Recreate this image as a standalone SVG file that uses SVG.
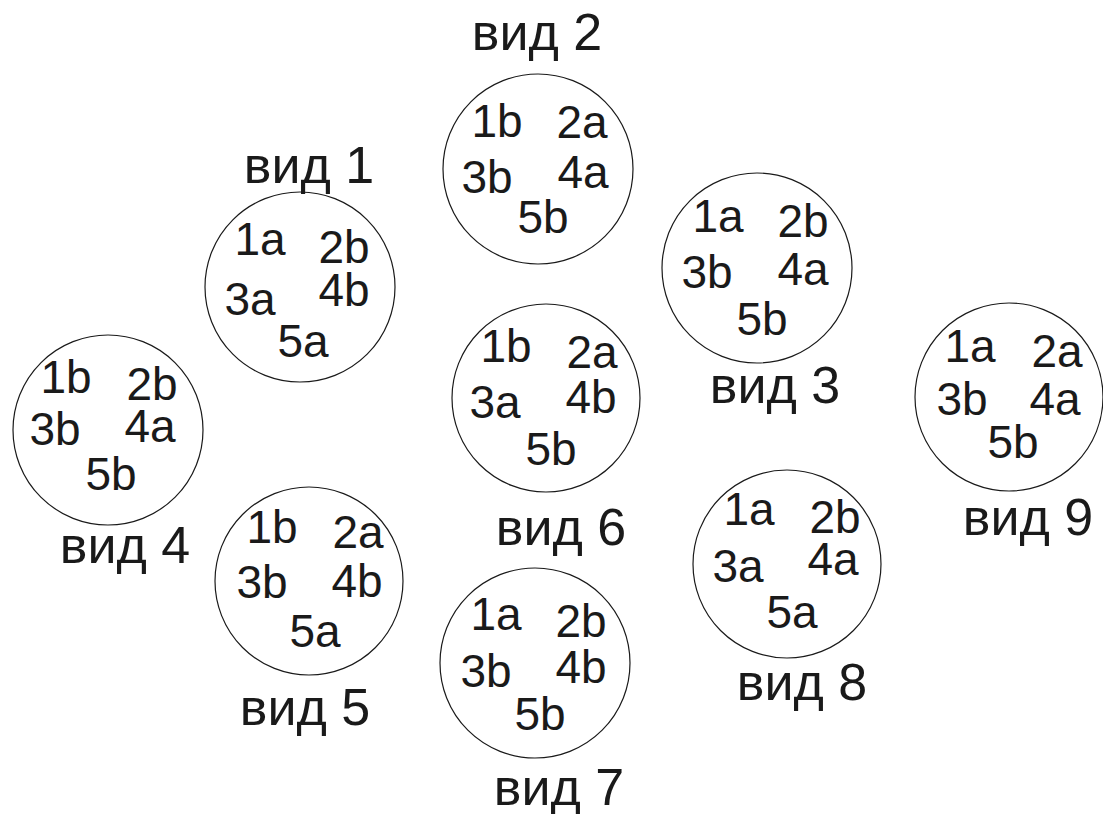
<svg xmlns="http://www.w3.org/2000/svg" width="1103" height="814" viewBox="0 0 1103 814">
<style>
.c{fill:none;stroke:#1a1a1a;stroke-width:1.2}
.t{font-family:"Liberation Sans",Arial,sans-serif;font-size:46px;fill:#1a1a1a;text-anchor:middle}
.l{font-family:"Liberation Sans",Arial,sans-serif;font-size:52px;fill:#1a1a1a;text-anchor:middle}
</style>
<rect width="1103" height="814" fill="#fff"/>
<g id="v1">
<circle class="c" cx="300" cy="287" r="95"/>
<text class="l" x="309" y="183">вид 1</text>
<text class="t" x="260" y="255">1a</text><text class="t" x="344" y="263">2b</text>
<text class="t" x="250" y="315">3a</text><text class="t" x="344" y="306">4b</text>
<text class="t" x="303" y="357">5a</text>
</g>
<g id="v2">
<circle class="c" cx="538" cy="169" r="95"/>
<text class="l" x="537" y="50">вид 2</text>
<text class="t" x="497" y="137">1b</text><text class="t" x="582" y="138">2a</text>
<text class="t" x="487" y="193">3b</text><text class="t" x="583" y="188">4a</text>
<text class="t" x="543" y="233">5b</text>
</g>
<g id="v3">
<circle class="c" cx="757" cy="268" r="95"/>
<text class="l" x="775" y="403">вид 3</text>
<text class="t" x="718" y="232">1a</text><text class="t" x="803" y="237">2b</text>
<text class="t" x="707" y="288">3b</text><text class="t" x="803" y="285">4a</text>
<text class="t" x="762" y="335">5b</text>
</g>
<g id="v4">
<circle class="c" cx="108" cy="430" r="95"/>
<text class="l" x="125" y="563">вид 4</text>
<text class="t" x="66" y="393">1b</text><text class="t" x="152" y="400">2b</text>
<text class="t" x="55" y="445">3b</text><text class="t" x="150" y="442">4a</text>
<text class="t" x="111" y="490">5b</text>
</g>
<g id="v5">
<circle class="c" cx="309" cy="581" r="94"/>
<text class="l" x="305" y="725">вид 5</text>
<text class="t" x="272" y="543">1b</text><text class="t" x="358" y="548">2a</text>
<text class="t" x="262" y="598">3b</text><text class="t" x="357" y="597">4b</text>
<text class="t" x="315" y="647">5a</text>
</g>
<g id="v6">
<circle class="c" cx="546" cy="398" r="94"/>
<text class="l" x="561" y="545">вид 6</text>
<text class="t" x="506" y="362">1b</text><text class="t" x="592" y="368">2a</text>
<text class="t" x="495" y="418">3a</text><text class="t" x="591" y="413">4b</text>
<text class="t" x="551" y="465">5b</text>
</g>
<g id="v7">
<circle class="c" cx="535" cy="663" r="95"/>
<text class="l" x="559" y="805">вид 7</text>
<text class="t" x="496" y="630">1a</text><text class="t" x="581" y="637">2b</text>
<text class="t" x="486" y="687">3b</text><text class="t" x="581" y="683">4b</text>
<text class="t" x="540" y="730">5b</text>
</g>
<g id="v8">
<circle class="c" cx="787" cy="564" r="94"/>
<text class="l" x="802" y="700">вид 8</text>
<text class="t" x="749" y="525">1a</text><text class="t" x="835" y="533">2b</text>
<text class="t" x="738" y="582">3a</text><text class="t" x="833" y="575">4a</text>
<text class="t" x="792" y="628">5a</text>
</g>
<g id="v9">
<circle class="c" cx="1009" cy="397" r="94"/>
<text class="l" x="1028" y="535">вид 9</text>
<text class="t" x="970" y="362">1a</text><text class="t" x="1057" y="367">2a</text>
<text class="t" x="962" y="415">3b</text><text class="t" x="1055" y="415">4a</text>
<text class="t" x="1013" y="458">5b</text>
</g>
<g id="connectors"></g>
</svg>
